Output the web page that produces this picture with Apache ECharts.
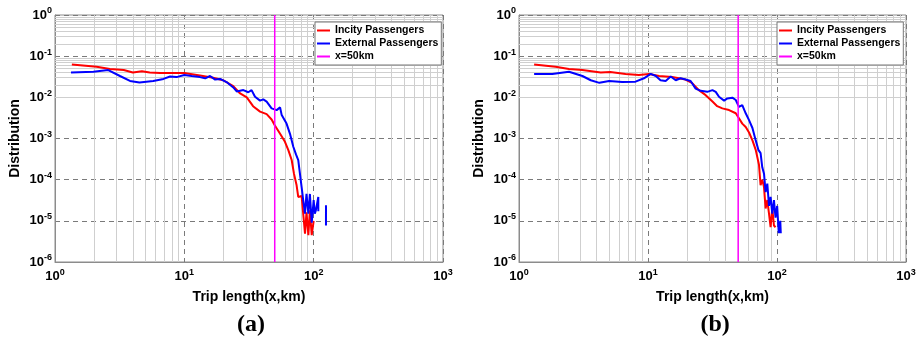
<!DOCTYPE html>
<html>
<head>
<meta charset="utf-8">
<script src="https://cdn.jsdelivr.net/npm/echarts@6/dist/echarts.min.js"></script>
<style>
  html, body {margin: 0; padding: 0; background: #fff;}
  #chart {width: 919px; height: 338px;}
</style>
</head>
<body>
<div id="chart"></div>
<script>
// trip length distributions, panel (a)
const incityA = [
  [1.35, 0.063], [2.1, 0.055], [2.66, 0.049], [3.4, 0.046], [4.0, 0.040], [4.7, 0.043],
  [5.4, 0.040], [6.5, 0.039], [10, 0.039], [13.2, 0.034], [16.7, 0.030], [20, 0.026],
  [23.9, 0.0187], [27, 0.0124], [30.4, 0.010], [34, 0.0061], [38.5, 0.0045], [43.3, 0.0039],
  [47.3, 0.0029], [50, 0.0021], [55, 0.0013], [60, 0.00083], [63.7, 0.00052], [67.6, 0.0003],
  [70.4, 0.00014], [73.8, 7.3e-5], [76, 3.8e-5], [80.7, 4e-5], [83, 1.5e-5], [85.7, 4.9e-6],
  [88, 1.6e-5], [91, 4.5e-6], [93.5, 1.8e-5], [96.6, 4.5e-6], [100, 1e-5]
];
const externalA = [
  [1.33, 0.040], [1.98, 0.042], [2.58, 0.046], [3.18, 0.033], [3.8, 0.025], [4.5, 0.023],
  [5.75, 0.025], [6.9, 0.028], [7.75, 0.032], [8.7, 0.031], [10, 0.035], [11.4, 0.033],
  [13.2, 0.031], [14.5, 0.029], [15.8, 0.033], [17.3, 0.027], [18.9, 0.028], [21.2, 0.0235],
  [23.9, 0.0174], [25.4, 0.0139], [28.6, 0.015], [31.2, 0.0133], [33.1, 0.015], [35.2, 0.0103],
  [38.5, 0.0083], [40.8, 0.0089], [43.3, 0.0079], [47.3, 0.0054], [51.7, 0.0049], [55, 0.0057],
  [56.6, 0.0037], [61.7, 0.0023], [65.6, 0.0013], [69.6, 0.00063], [73, 0.00041], [76, 0.0003],
  [78.3, 0.00014], [80.7, 6.6e-5], [83, 3.2e-5], [85.7, 1.5e-5], [88, 4.5e-5], [91, 1.5e-5],
  [93.5, 4.5e-5], [96.6, 9e-6], [100, 3.2e-5], [102, 1.5e-5], [104, 1.8e-5], [108.6, 3.8e-5],
  [108.6, 1.7e-5], [115, '-'], [124.5, 2.4e-5], [124.5, 7.7e-6]
];
// panel (b)
const incityB = [
  [1.31, 0.063], [1.92, 0.055], [2.44, 0.049], [3.1, 0.046], [4.3, 0.040], [5.1, 0.041],
  [6.7, 0.037], [8.5, 0.035], [10.2, 0.037], [12.2, 0.033], [15.4, 0.031], [19.5, 0.027],
  [21.9, 0.0225], [24.8, 0.015], [28, 0.0113], [31.6, 0.0079], [34.4, 0.0061], [37.7, 0.0054],
  [42.5, 0.0049], [47.9, 0.0041], [50.7, 0.0031], [53.8, 0.0023], [57.2, 0.0019], [60.7, 0.0014],
  [64.5, 0.0009], [68.4, 0.00053], [72.5, 0.00023], [74.6, 7.3e-5], [76.9, 1e-4], [79.3, 6.6e-5],
  [81.6, 2e-5], [84.1, 3.2e-5], [86.7, 1.5e-5], [89.2, 7e-6], [91.9, 2e-5], [94.7, 7.7e-6],
  [97.4, 7e-6]
];
const externalB = [
  [1.31, 0.037], [1.81, 0.037], [2.44, 0.042], [3.1, 0.033], [3.6, 0.026], [4.2, 0.0225],
  [5.0, 0.025], [6.3, 0.0235], [8.0, 0.024], [9.3, 0.029], [10.5, 0.037], [11.5, 0.033],
  [12.5, 0.026], [13.7, 0.025], [15, 0.032], [16.4, 0.026], [17.9, 0.029], [19.6, 0.027],
  [21.4, 0.025], [23.4, 0.0163], [25.6, 0.0144], [28.8, 0.0136], [31.6, 0.015], [33.5, 0.0136],
  [35.5, 0.0103], [38.9, 0.0083], [41.2, 0.0094], [45.1, 0.0098], [47.9, 0.0086], [50.7, 0.0059],
  [53.8, 0.0065], [57.2, 0.0041], [60.7, 0.0028], [64.5, 0.0018], [68.4, 0.0009], [71.7, 0.00053],
  [74.6, 0.00044], [76.9, 0.0002], [79.3, 0.00014], [81.6, 5e-5], [84.1, 8e-5], [86.7, 2.3e-5],
  [89.2, 3.8e-5], [91.9, 1.5e-5], [94.7, 3.2e-5], [97.4, 1.2e-5], [100.3, 2.3e-5], [103.2, 5e-6],
  [106, 1e-5], [107, 5e-6]
];
const cutoffKm = 50;
const xRange = [1, 1000];
const yRange = [1e-6, 1];
const legendNames = ['Incity Passengers', 'External Passengers', 'x=50km'];
const panelLabels = ['(a)', '(b)'];

const FONT = 'Liberation Sans';

// light minor grid lines at 2..9 of each decade
const minorLines = (lo, hi) => {
  const out = [];
  for (let e = Math.round(Math.log10(lo)); e < Math.round(Math.log10(hi)); e++) {
    for (let m = 2; m <= 9; m++) out.push(m * Math.pow(10, e));
  }
  return out;
};
const xMinor = minorLines(xRange[0], xRange[1]);
const yMinor = minorLines(yRange[0], yRange[1]);

const powLabel = v => {
  const e = Math.round(Math.log10(v));
  return '{b|10}{s|' + e + '}';
};
const labelRich = {
  b: {fontFamily: FONT, fontWeight: 'bold', fontSize: 13, color: '#000'},
  s: {fontFamily: FONT, fontWeight: 'bold', fontSize: 9, color: '#000', verticalAlign: 'top', padding: [0, 0, 8, 0]}
};

const grids = [
  {left: 55, top: 15, width: 388, height: 247},
  {left: 519, top: 15, width: 387, height: 247}
];
const legendPos = [{left: 315, top: 22}, {left: 777, top: 22}];

const xAxes = grids.map((g, i) => ({
  type: 'log', gridIndex: i, min: xRange[0], max: xRange[1], logBase: 10, splitNumber: 3,
  name: 'Trip length(x,km)', nameLocation: 'middle', nameGap: 28,
  nameTextStyle: {fontFamily: FONT, fontWeight: 'bold', fontSize: 14, color: '#000'},
  axisLine: {lineStyle: {color: '#8c8c8c'}},
  axisTick: {show: false},
  axisLabel: {margin: 6, formatter: powLabel, rich: labelRich},
  splitLine: {show: true, lineStyle: {color: '#7a7a7a', type: [5, 4], width: 1}}
}));
const yAxes = grids.map((g, i) => ({
  type: 'log', gridIndex: i, min: yRange[0], max: yRange[1], logBase: 10, splitNumber: 6,
  name: 'Distribution', nameLocation: 'middle', nameGap: 33,
  nameTextStyle: {fontFamily: FONT, fontWeight: 'bold', fontSize: 14, color: '#000'},
  axisLine: {lineStyle: {color: '#8c8c8c'}},
  axisTick: {show: false},
  axisLabel: {margin: 3, formatter: powLabel, rich: labelRich},
  splitLine: {show: true, lineStyle: {color: '#7a7a7a', type: [5, 4], width: 1}}
}));

const panels = [[incityA, externalA], [incityB, externalB]];
const series = [];
panels.forEach((p, i) => {
  series.push({
    type: 'scatter', xAxisIndex: i, yAxisIndex: i, data: [[1, 1]], symbolSize: 0,
    silent: true, z: 1,
    markLine: {
      silent: true, z: 1, symbol: ['none', 'none'], label: {show: false}, animation: false,
      lineStyle: {type: 'solid', color: '#cfcfcf', width: 1},
      data: xMinor.map(v => ({xAxis: v})).concat(yMinor.map(v => ({yAxis: v})))
    }
  });
  series.push({
    name: legendNames[0], type: 'line', xAxisIndex: i, yAxisIndex: i, data: p[0],
    showSymbol: false, symbol: 'none', color: '#ff0000', lineStyle: {width: 2, color: '#ff0000'}, z: 3
  });
  series.push({
    name: legendNames[1], type: 'line', xAxisIndex: i, yAxisIndex: i, data: p[1],
    showSymbol: false, symbol: 'none', color: '#0000ff', lineStyle: {width: 2, color: '#0000ff'}, z: 4,
    connectNulls: false
  });
  series.push({
    name: legendNames[2], type: 'line', xAxisIndex: i, yAxisIndex: i,
    data: [[cutoffKm, yRange[0]], [cutoffKm, yRange[1]]],
    showSymbol: false, symbol: 'none', color: '#ff00ff', lineStyle: {width: 1.5, color: '#ff00ff'}, z: 5
  });
});

const chart = echarts.init(document.getElementById('chart'), null, {renderer: 'canvas'});
chart.setOption({
  animation: false,
  backgroundColor: '#fff',
  grid: grids.map(g => ({...g, show: true, borderColor: '#8c8c8c', borderWidth: 1, backgroundColor: 'transparent'})),
  xAxis: xAxes,
  yAxis: yAxes,
  legend: legendPos.map(pos => ({
    ...pos, orient: 'vertical', data: legendNames, selectedMode: false, z: 10,
    backgroundColor: '#fff', borderColor: '#777', borderWidth: 1, borderRadius: 0,
    padding: [3, 3, 3, 2], itemGap: 2, itemWidth: 13, itemHeight: 2, icon: 'rect',
    textStyle: {fontFamily: FONT, fontWeight: 'bold', fontSize: 10.5, color: '#000'}
  })),
  graphic: panelLabels.map((t, i) => ({
    type: 'text', left: grids[i].left + grids[i].width / 2 - 12, top: 313,
    style: {text: t, fontFamily: 'Liberation Serif', fontWeight: 'bold', fontSize: 24, fill: '#000'}
  })),
  series: series
});
</script>
</body>
</html>
